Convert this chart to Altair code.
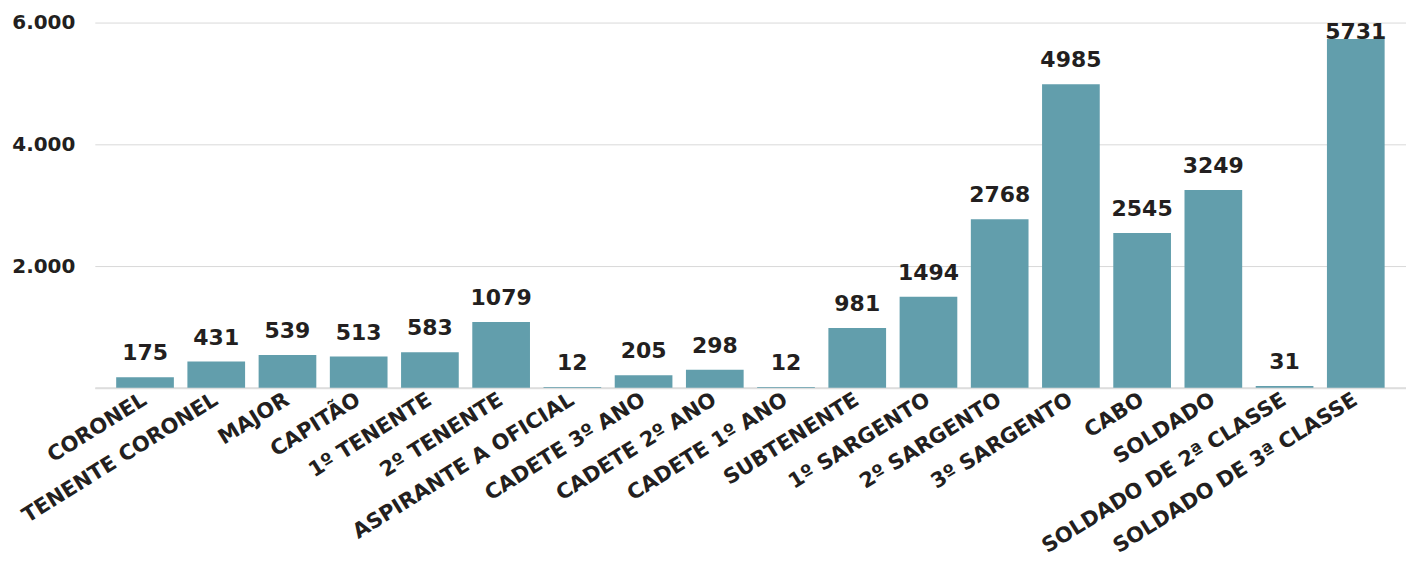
import altair as alt
import pandas as pd

categories = ["CORONEL", "TENENTE CORONEL", "MAJOR", "CAPITÃO", "1º TENENTE", "2º TENENTE",
              "ASPIRANTE A OFICIAL", "CADETE 3º ANO", "CADETE 2º ANO", "CADETE 1º ANO",
              "SUBTENENTE", "1º SARGENTO", "2º SARGENTO", "3º SARGENTO", "CABO", "SOLDADO",
              "SOLDADO DE 2ª CLASSE", "SOLDADO DE 3ª CLASSE"]
values = [175, 431, 539, 513, 583, 1079, 12, 205, 298, 12, 981, 1494, 2768, 4985, 2545, 3249, 31, 5731]
y_ticks = [0, 2000, 4000, 6000]

df = pd.DataFrame({"cat": categories, "val": values})

FONT = "DejaVu Sans"
TXT = "#231f20"

x = alt.X("cat:N", sort=categories, title=None,
          scale=alt.Scale(paddingInner=0.19, paddingOuter=0.3),
          axis=alt.Axis(labelAngle=-32, labelAlign="right", labelBaseline="middle",
                        labelFont=FONT, labelFontSize=21, labelFontWeight="bold",
                        labelColor=TXT, labelLimit=0, labelPadding=10, ticks=False,
                        domain=True, domainColor="#dddddd", domainWidth=2))
y = alt.Y("val:Q", title=None,
          scale=alt.Scale(domain=[0, 6000], nice=False),
          axis=alt.Axis(values=y_ticks, format=",d",
                        labelExpr="datum.value == 0 ? '' : replace(datum.label, ',', '.')",
                        labelFont=FONT, labelFontSize=20, labelFontWeight="bold",
                        labelColor=TXT, labelPadding=20, ticks=False, domain=False,
                        grid=True, gridColor="#d9d9d9", gridWidth=1))

bars = alt.Chart(df).mark_bar(color="#629eac").encode(x=x, y=y)
labels = alt.Chart(df).transform_calculate(
    ly="min(datum.val, 5450)"
).mark_text(font=FONT, fontSize=22, fontWeight="bold", color=TXT,
            baseline="bottom", dy=-12).encode(
    x=alt.X("cat:N", sort=categories), y=alt.Y("ly:Q"), text="val:Q")

chart = (bars + labels).properties(
    width=1314, height=366,
    autosize=alt.AutoSizeParams(type="none"),
    padding={"left": 87, "top": 14, "right": 0, "bottom": 185},
).configure_view(stroke=None)

chart.save("out.html", embed_options={"renderer": "svg", "actions": False})
